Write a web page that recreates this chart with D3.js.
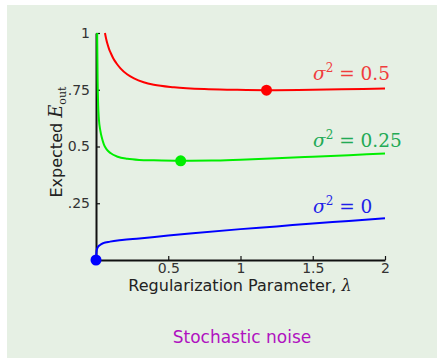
<!DOCTYPE html>
<html>
<head>
<meta charset="utf-8">
<script src="https://cdn.jsdelivr.net/npm/d3@7"></script>
<style>
  body { margin: 0; background: #fff; }
  svg { display: block; }
</style>
</head>
<body>
<div id="chart"></div>
<script>
// values
var xTicks = [0.5, 1, 1.5, 2];
var yTicks = [0.25, 0.5, 0.75, 1];
var yTickLabels = [".25", "0.5", ".75", "1"];

var blueLambda = [0, 0.002, 0.005, 0.012, 0.028, 0.05, 0.097, 0.18, 0.3, 0.5, 0.65, 1, 1.25, 1.5, 1.75, 2];
var blueEout   = [0, 0.025, 0.044, 0.056, 0.066, 0.074, 0.081, 0.088, 0.095, 0.108, 0.117, 0.136, 0.148, 0.161, 0.172, 0.184];

var greenLambda = [0.008, 0.011, 0.015, 0.02, 0.03, 0.042, 0.055, 0.075, 0.1, 0.15, 0.217, 0.3, 0.4, 0.586, 0.8, 1, 1.25, 1.5, 1.75, 2];
var greenEout   = [1.0, 0.8, 0.68, 0.62, 0.57, 0.535, 0.508, 0.486, 0.471, 0.455, 0.446, 0.441, 0.439, 0.437, 0.438, 0.442, 0.448, 0.455, 0.462, 0.469];

var redLambda = [0.062, 0.07, 0.08, 0.09, 0.102, 0.12, 0.14, 0.171, 0.215, 0.263, 0.33, 0.4, 0.54, 0.75, 0.95, 1.18, 1.4, 1.7, 2];
var redEout   = [1.0, 0.975, 0.95, 0.93, 0.912, 0.888, 0.868, 0.843, 0.818, 0.80, 0.783, 0.772, 0.761, 0.753, 0.75, 0.748, 0.749, 0.752, 0.755];

var series = [
  {name: "0", lam: blueLambda, val: blueEout, color: "#0000ff", labelColor: "#1f1fe8", best: [0, 0]},
  {name: "0.25", lam: greenLambda, val: greenEout, color: "#00ee00", labelColor: "#22aa55", best: [0.586, 0.437]},
  {name: "0.5", lam: redLambda, val: redEout, color: "#ff0000", labelColor: "#f03c3c", best: [1.18, 0.748]}
];

var W = 442, H = 359;
var svg = d3.select("#chart").append("svg").attr("width", W).attr("height", H);

svg.append("rect").attr("x", 7).attr("y", 5).attr("width", 430).attr("height", 353).attr("fill", "#e6f0e4");

var x = d3.scaleLinear().domain([0, 2]).range([96, 385]);
var y = d3.scaleLinear().domain([0, 1]).range([260, 33]);

var g = svg.append("g");

// axes
var xAxis = d3.axisBottom(x).tickValues(xTicks).tickSize(-4).tickSizeOuter(0).tickPadding(6).tickFormat(d3.format("~g"));
var yAxis = d3.axisLeft(y).tickValues(yTicks).tickSize(-4).tickSizeOuter(0).tickPadding(6)
  .tickFormat((d, i) => yTickLabels[i]);

var gx = g.append("g").attr("transform", "translate(0,260)").call(xAxis);
var gy = g.append("g").attr("transform", "translate(96,0)").call(yAxis);
[gx, gy].forEach(a => {
  a.select(".domain").attr("stroke", "#111").attr("stroke-width", 2);
  a.selectAll(".tick line").attr("stroke", "#111").attr("stroke-width", 1.2);
  a.selectAll(".tick text").attr("fill", "#333").attr("font-family", "DejaVu Sans, sans-serif")
    .attr("font-size", 14);
});
gx.selectAll(".tick text").attr("dy", "0.5em");

// curves
var line = d3.line().curve(d3.curveMonotoneX).x(d => x(d[0])).y(d => y(d[1]));
series.forEach(s => {
  var pts = s.lam.map((l, i) => [l, s.val[i]]);
  g.append("path").attr("d", line(pts)).attr("fill", "none")
    .attr("stroke", s.color).attr("stroke-width", 2);
});

// dots on top
series.forEach(s => {
  g.append("circle").attr("cx", x(s.best[0])).attr("cy", y(s.best[1])).attr("r", 5.5).attr("fill", s.color);
});

// curve labels
var labelPos = {"0": 213, "0.25": 147, "0.5": 80};
series.forEach(s => {
  var t = svg.append("text").attr("x", 313).attr("y", labelPos[s.name])
    .attr("font-family", "DejaVu Serif, serif").attr("font-size", 18.5).attr("fill", s.labelColor);
  t.append("tspan").attr("font-style", "italic").text("σ");
  t.append("tspan").attr("font-size", 12).attr("dy", -8).text("2");
  t.append("tspan").attr("dy", 8).text(" = " + s.name);
});

// axis titles
svg.append("text").attr("x", 240).attr("y", 291).attr("text-anchor", "middle")
  .attr("font-family", "DejaVu Sans, sans-serif").attr("font-size", 16).attr("fill", "#222")
  .text("Regularization Parameter, ")
  .append("tspan").attr("font-family", "DejaVu Serif, serif").attr("font-style", "italic").text("λ");

var yt = svg.append("text").attr("transform", "translate(62,142) rotate(-90)").attr("text-anchor", "middle")
  .attr("font-family", "DejaVu Sans, sans-serif").attr("font-size", 16).attr("fill", "#222");
yt.append("tspan").text("Expected ");
yt.append("tspan").attr("font-family", "DejaVu Serif, serif").attr("font-style", "italic").attr("font-size", 18).text("E");
yt.append("tspan").attr("font-family", "DejaVu Serif, serif").attr("font-size", 11).attr("dy", 4).text("out");

svg.append("text").attr("x", 242).attr("y", 343).attr("text-anchor", "middle")
  .attr("font-family", "DejaVu Sans, sans-serif").attr("font-size", 17).attr("fill", "#b012c0")
  .text("Stochastic noise");
</script>
</body>
</html>
